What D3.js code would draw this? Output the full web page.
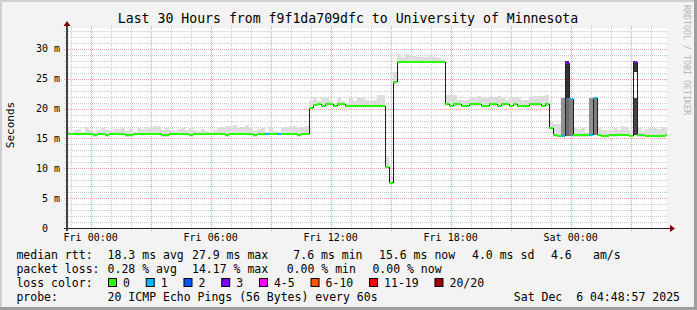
<!DOCTYPE html>
<html>
<head>
<meta charset="utf-8">
<script src="https://cdn.jsdelivr.net/npm/d3@7"></script>
<style>
body { margin: 0; background: #f3f3f3; }
svg { display: block; font-family: "DejaVu Sans Mono", monospace; }
svg text { white-space: pre; }
</style>
</head>
<body>
<div id="chart-area"></div>
<script>
const W = 697, H = 310;
const PLOT = { LEFT: 67, RIGHT: 667, TOP: 28, BOTTOM: 228 };

// 12 minute consolidated steps, first one starts Thu 22:44 UTC
const STEP_MS = 12 * 60 * 1000;
const firstStep = Date.UTC(2025, 11, 4, 22, 44);
const graphStart = Date.UTC(2025, 11, 4, 22, 48, 57);
const graphEnd = Date.UTC(2025, 11, 6, 4, 48, 57);

// median rtt per step (ms)
const median = [
  15.7,15.7,15.7,15.7,15.7,15.7,15.7,15.5,15.7,15.7,
  15.5,15.7,15.7,15.7,15.7,15.5,15.5,15.7,15.7,15.7,
  15.7,15.7,15.7,15.7,15.5,15.5,15.7,15.7,15.7,15.7,
  15.7,15.5,15.7,15.7,15.7,15.7,15.7,15.7,15.7,15.7,
  15.5,15.7,15.7,15.7,15.7,15.7,15.7,15.5,15.7,15.7,
  15.7,15.7,15.7,15.7,15.7,15.7,15.7,15.7,15.5,15.7,
  15.7,20.1,20.6,20.7,20.5,20.7,20.7,20.5,20.7,20.7,
  20.5,20.5,20.5,20.5,20.5,20.5,20.5,20.5,20.5,20.5,
  10.3,7.6,24.4,27.8,27.8,27.8,27.8,27.8,27.8,27.8,
  27.8,27.8,27.8,27.8,27.8,20.7,20.5,20.7,20.7,20.5,
  20.5,20.7,20.7,20.7,20.5,20.5,20.7,20.7,20.5,20.7,
  20.7,20.5,20.7,20.5,20.5,20.5,20.7,20.7,20.7,20.5,
  20.7,16.8,15.5,15.4,15.4,27.7,21.6,15.5,15.5,15.5,
  15.5,15.6,21.8,15.6,15.4,15.4,15.6,15.5,15.6,15.6,
  15.6,15.4,27.8,15.5,15.5,15.4,15.4,15.4,15.4,15.4,15.5
];

// highest ping per step (top of the light smoke, ms)
const smokeTop = [
  17.0,16.1,16.4,16.5,16.1,17.0,16.4,16.1,16.4,16.7,
  16.4,16.3,16.5,16.5,16.7,16.3,16.5,16.1,16.7,16.5,
  17.0,17.0,17.1,17.1,16.4,16.7,16.4,16.3,16.5,16.7,
  16.4,16.7,16.4,16.3,16.5,16.3,16.1,16.4,16.7,17.0,
  17.1,17.1,17.3,16.7,16.9,17.3,16.7,16.3,16.5,16.7,
  16.1,17.0,16.3,16.1,16.7,17.0,17.1,17.1,16.7,17.0,
  17.1,21.2,21.9,21.3,21.9,21.8,21.5,20.9,21.7,21.2,
  20.9,21.9,21.2,21.9,21.7,21.5,21.3,21.5,22.2,22.2,
  12.0,8.5,26.1,29.2,28.6,29.2,28.9,28.8,28.7,28.6,
  28.7,29.0,28.7,28.5,28.3,22.2,22.3,22.3,21.5,21.4,
  21.4,21.8,21.8,22.1,21.7,21.7,21.9,21.9,22.1,21.7,
  21.4,21.8,21.7,21.7,21.5,21.5,21.9,22.1,22.1,22.1,
  22.2,17.8,17.4,17.4,21.8,27.9,21.8,17.0,16.6,16.8,
  16.1,21.8,21.8,16.8,16.4,16.4,16.3,16.7,16.4,17.1,
  17.0,16.4,27.9,16.8,16.3,16.6,16.8,16.8,16.6,17.0,16.8
];

// steps with lost pings
const lossSteps = [50, 53, 124, 125, 126, 131, 132, 142];
const lossCounts = [1, 1, 1, 3, 1, 1, 1, 3];

// wide spread steps: inner ping bands (smokeping band index 1..10)
const spikeSteps = [124, 125, 125, 126, 131, 132, 142, 142];
const spikeLo = [15.4, 15.4, 21.8, 15.4, 15.6, 15.6, 15.5, 26.2];
const spikeHi = [21.8, 21.8, 27.9, 21.8, 21.8, 21.8, 21.8, 27.9];
const spikeBand = [5, 7, 10, 6, 5, 6, 9, 10];

// loss colour legend
const lossLabels = ["0", "1", "2", "3", "4-5", "6-10", "11-19", "20/20"];
const lossLimits = [0, 1, 2, 3, 5, 10, 19, 20];
const lossColors = ["#26ff00", "#00b8ff", "#0059ff", "#7e00ff", "#ff00ff", "#ff5500", "#ff0000", "#a10000"];

const rttStats = ["18.3 ms avg", "27.9 ms max", "7.6 ms min", "15.6 ms now", "4.0 ms sd", "4.6", "am/s"];
const lossStats = ["0.28 % avg", "14.17 % max", "0.00 % min", "0.00 % now"];
const rttX = [107.6, 192, 293.3, 379, 472, 551, 593];
const lossX = [107.6, 192, 286.7, 372.4];

const svg = d3.select('#chart-area').append('svg')
    .attr('width', W)
    .attr('height', H);

// background + shaded frame
svg.append('rect').attr('width', W).attr('height', H).attr('fill', '#f3f3f3');
svg.append('rect').attr('width', W).attr('height', 2).attr('fill', '#cfcfcf');
svg.append('rect').attr('width', 2).attr('height', H).attr('fill', '#cfcfcf');
svg.append('rect').attr('x', W - 3).attr('width', 3).attr('height', H).attr('fill', '#9e9e9e');
svg.append('rect').attr('y', H - 3).attr('width', W).attr('height', 3).attr('fill', '#9e9e9e');

// scales
const x = d3.scaleUtc()
    .domain([new Date(graphStart), new Date(graphEnd)])
    .range([PLOT.LEFT, PLOT.RIGHT]);

const y = d3.scaleLinear()
    .domain([0, 33.5])
    .range([PLOT.BOTTOM, PLOT.TOP]);

const lossColor = n => lossColors[lossLimits.findIndex(l => n <= l)];
const bandGray = b => { const g = Math.round(190 / 10 * (10 - b) + 50); return `rgb(${g},${g},${g})`; };

// canvas
svg.append('rect')
    .attr('x', PLOT.LEFT).attr('y', PLOT.TOP)
    .attr('width', PLOT.RIGHT - PLOT.LEFT).attr('height', PLOT.BOTTOM - PLOT.TOP)
    .attr('fill', '#ffffff');

// grid
const grid = svg.append('g').attr('shape-rendering', 'crispEdges');
const hours = x.ticks(d3.utcHour.every(1));
const msLines = d3.range(1, 34);

grid.selectAll('.vgrid').data(hours).enter().append('line')
    .attr('x1', d => Math.round(x(d)) + 0.5).attr('x2', d => Math.round(x(d)) + 0.5)
    .attr('y1', PLOT.TOP - 2).attr('y2', PLOT.BOTTOM + 3)
    .attr('stroke', d => d.getUTCHours() % 3 === 0 ? '#f0a0a0' : '#cccccc')
    .attr('stroke-dasharray', '1,1');

grid.selectAll('.hgrid').data(msLines).enter().append('line')
    .attr('x1', PLOT.LEFT - 3).attr('x2', PLOT.RIGHT)
    .attr('y1', d => Math.round(y(d)) + 0.5).attr('y2', d => Math.round(y(d)) + 0.5)
    .attr('stroke', d => d % 5 === 0 ? '#f0a0a0' : '#cccccc')
    .attr('stroke-dasharray', '1,1');

// data steps
const lossAt = new Map(lossSteps.map((s, i) => [s, lossCounts[i]]));
const steps = median.map((m, i) => ({
    i: i,
    t0: new Date(firstStep + i * STEP_MS),
    t1: new Date(firstStep + (i + 1) * STEP_MS),
    median: m,
    top: smokeTop[i],
    loss: lossAt.get(i) || 0
}));
const bands = spikeSteps.map((s, i) => ({ step: steps[s], lo: spikeLo[i], hi: spikeHi[i], band: spikeBand[i] }));

svg.append('clipPath').attr('id', 'plot-clip')
    .append('rect')
    .attr('x', PLOT.LEFT + 1).attr('y', PLOT.TOP)
    .attr('width', PLOT.RIGHT - PLOT.LEFT - 1).attr('height', PLOT.BOTTOM - PLOT.TOP);

const g = svg.append('g').attr('clip-path', 'url(#plot-clip)').attr('shape-rendering', 'crispEdges');

const sx0 = s => Math.round(x(s.t0));
const sx1 = s => Math.round(x(s.t1));

// light smoke
g.selectAll('.smoke').data(steps).enter().append('rect')
    .attr('x', sx0)
    .attr('width', s => sx1(s) - sx0(s))
    .attr('y', s => Math.round(y(s.top)))
    .attr('height', s => Math.max(0, Math.round(y(Math.min(s.median, s.top) - 0.2)) - Math.round(y(s.top))))
    .attr('fill', bandGray(1));

// inner ping bands
g.selectAll('.band').data(bands).enter().append('rect')
    .attr('x', d => sx0(d.step))
    .attr('width', d => sx1(d.step) - sx0(d.step))
    .attr('y', d => Math.round(y(d.hi)))
    .attr('height', d => Math.round(y(d.lo)) - Math.round(y(d.hi)))
    .attr('fill', d => bandGray(d.band));

// median: dark step transitions
g.selectAll('.vstep').data(steps.slice(1)).enter().append('line')
    .attr('x1', s => sx0(s) + 0.5).attr('x2', s => sx0(s) + 0.5)
    .attr('y1', s => Math.round(y(steps[s.i - 1].median)))
    .attr('y2', s => Math.round(y(s.median)))
    .attr('stroke', '#202020')
    .attr('stroke-width', 1);

// median: loss coloured levels
g.selectAll('.level').data(steps).enter().append('line')
    .attr('x1', sx0).attr('x2', sx1)
    .attr('y1', s => Math.round(y(s.median))).attr('y2', s => Math.round(y(s.median)))
    .attr('stroke', s => lossColor(s.loss))
    .attr('stroke-width', 2);

// axes
const axis = svg.append('g').attr('shape-rendering', 'crispEdges');
axis.append('line')
    .attr('x1', PLOT.LEFT - 3).attr('x2', PLOT.RIGHT + 3)
    .attr('y1', PLOT.BOTTOM + 0.5).attr('y2', PLOT.BOTTOM + 0.5)
    .attr('stroke', '#202020');
axis.append('line')
    .attr('x1', PLOT.LEFT).attr('x2', PLOT.LEFT)
    .attr('y1', PLOT.BOTTOM + 3).attr('y2', PLOT.TOP - 3)
    .attr('stroke', '#404040').attr('stroke-width', 2);
svg.append('path')
    .attr('d', `M${PLOT.RIGHT + 3},${PLOT.BOTTOM - 3}L${PLOT.RIGHT + 8},${PLOT.BOTTOM + 0.5}L${PLOT.RIGHT + 3},${PLOT.BOTTOM + 4}Z`)
    .attr('fill', '#7f0000');
svg.append('path')
    .attr('d', `M${PLOT.LEFT - 3.5},${PLOT.TOP - 2}L${PLOT.LEFT},${PLOT.TOP - 7}L${PLOT.LEFT + 3.5},${PLOT.TOP - 2}Z`)
    .attr('fill', '#7f0000');

// x labels
const labelTimes = x.ticks(d3.utcHour.every(6));
svg.selectAll('.xlabel').data(labelTimes).enter().append('text')
    .attr('x', d => x(d))
    .attr('y', PLOT.BOTTOM + 13)
    .attr('text-anchor', 'middle')
    .attr('font-size', '10px')
    .text(d3.utcFormat('%a %H:%M'));

// y labels
const yLabels = d3.range(0, 31, 5);
svg.selectAll('.ylabel').data(yLabels).enter().append('text')
    .attr('x', d => d === 0 ? 48 : 60)
    .attr('y', d => y(d) + 3.5)
    .attr('text-anchor', 'end')
    .attr('font-size', '10px')
    .text(d => d === 0 ? '0' : `${d} m`);

svg.append('text')
    .attr('transform', 'translate(14,125) rotate(-90)')
    .attr('text-anchor', 'middle')
    .attr('font-size', '11px')
    .text('Seconds');

// title
svg.append('text')
    .attr('x', 348).attr('y', 23)
    .attr('text-anchor', 'middle')
    .attr('font-size', '13.2px')
    .text('Last 30 Hours from f9f1da709dfc to University of Minnesota');

// watermark
svg.append('text')
    .attr('transform', 'translate(684,5) rotate(90)')
    .attr('font-size', '8.3px')
    .attr('fill', '#b4b4b4')
    .text('RRDTOOL / TOBI OETIKER');

// legend
const legend = svg.append('g').attr('font-size', '11.5px');
const ROWS = [259, 273, 287, 301];

legend.append('text').attr('x', 16.4).attr('y', ROWS[0]).text('median rtt:');
rttStats.forEach((s, i) => legend.append('text').attr('x', rttX[i]).attr('y', ROWS[0]).text(s));

legend.append('text').attr('x', 16.4).attr('y', ROWS[1]).text('packet loss:');
lossStats.forEach((s, i) => legend.append('text').attr('x', lossX[i]).attr('y', ROWS[1]).text(s));

legend.append('text').attr('x', 16.4).attr('y', ROWS[2]).text('loss color:');
let lx = 108;
lossLabels.forEach((lab, i) => {
    legend.append('rect')
        .attr('x', lx + 0.5).attr('y', ROWS[2] - 8.5)
        .attr('width', 8).attr('height', 8)
        .attr('fill', lossColors[i])
        .attr('stroke', '#000');
    const t = legend.append('text').attr('x', lx + 15).attr('y', ROWS[2]).text(lab);
    lx = lx + 15 + t.node().getComputedTextLength() + 15.8;
});

legend.append('text').attr('x', 16.4).attr('y', ROWS[3]).text('probe:');
legend.append('text').attr('x', 107.6).attr('y', ROWS[3]).text('20 ICMP Echo Pings (56 Bytes) every 60s');
legend.append('text').attr('x', 680).attr('y', ROWS[3]).attr('text-anchor', 'end')
    .text('Sat Dec \u00a06 04:48:57 2025');
</script>
</body>
</html>
